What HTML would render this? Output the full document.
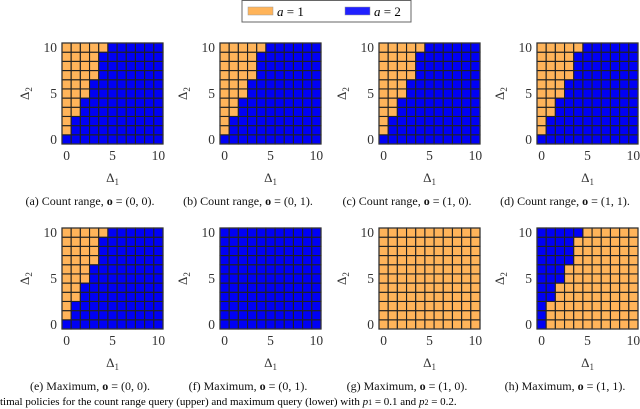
<!DOCTYPE html>
<html><head><meta charset="utf-8">
<style>
html,body{margin:0;padding:0;background:#fff;}
svg{display:block;font-family:"Liberation Serif",serif;}
</style></head>
<body>
<svg id="fig" width="640" height="409" viewBox="0 0 640 409">
  <g>
    <rect x="242" y="0.5" width="169" height="21.5" fill="#fff" stroke="#666" stroke-width="1"/>
    <rect x="248" y="7" width="25" height="8" fill="#FFB45A" stroke="#999" stroke-width="0.5"/>
    <text x="277" y="16" font-size="13"><tspan font-style="italic">a</tspan> = 1</text>
    <rect x="345" y="7" width="25" height="8" fill="#2020FF" stroke="#999" stroke-width="0.5"/>
    <text x="374" y="16" font-size="13"><tspan font-style="italic">a</tspan> = 2</text>
  </g>
  <g id="panels"></g>
  <text x="0" y="405" font-size="11">timal policies for the count range query (upper) and maximum query (lower) with <tspan font-style="italic">p</tspan><tspan font-size="8">1</tspan> = 0.1 and <tspan font-style="italic">p</tspan><tspan font-size="8">2</tspan> = 0.2.</text>
</svg>
<script>
// number of a=1 (orange) cells from left in each row, rows Δ2 = 0..10
const orangeCountA = [0,1,1,2,2,3,3,4,4,4,5];
const orangeCountE = [0,1,1,2,2,3,3,4,4,4,5];
const blueCountH = [1,1,1,2,2,3,3,4,4,4,5];
const panelKinds = ['thresh','thresh','thresh','thresh','thresh','all2','all1','inv'];
const panelCaptions = ['(a) Count range, ','(b) Count range, ','(c) Count range, ','(d) Count range, ',
  '(e) Maximum, ','(f) Maximum, ','(g) Maximum, ','(h) Maximum, '];
const panelO = ['(0, 0).','(0, 1).','(1, 0).','(1, 1).','(0, 0).','(0, 1).','(1, 0).','(1, 1).'];
const axisTicks = [0,5,10];
const panelCounts = [orangeCountA,orangeCountA,orangeCountA,orangeCountA,orangeCountE,orangeCountE,orangeCountE,blueCountH];

const NS='http://www.w3.org/2000/svg';
const root=document.getElementById('panels');
const lefts=[62,220,379,537], tops=[43,228], W=101, N=11;
const ORANGE='#FFB45A', BLUE='#0000F5';
function mk(tag,attrs,parent){const e=document.createElementNS(NS,tag);for(const k in attrs)e.setAttribute(k,attrs[k]);parent.appendChild(e);return e;}
for(let p=0;p<8;p++){
  const x0=lefts[p%4], y0=tops[Math.floor(p/4)], cs=W/N;
  const sx=v=>x0+(v+0.5)*cs, sy=v=>y0+W-(v+0.5)*cs;
  const g=mk('g',{},root);
  
  
  const cnt=panelCounts[p], kind=panelKinds[p];
  for(let r=0;r<N;r++)for(let c=0;c<N;c++){
    let a;
    if(kind==='all1')a=1;else if(kind==='all2')a=2;
    else if(kind==='thresh')a=c<cnt[r]?1:2;
    else a=c<cnt[r]?2:1;
    const rc=mk('rect',{x:sx(c)-cs/2,y:sy(r)-cs/2,width:cs,height:cs,fill:a===1?ORANGE:BLUE,stroke:'#222','stroke-width':1.1},g);
    
    
  }
  const fr=mk('rect',{x:x0,y:y0,width:W,height:W,fill:'none',stroke:'#333','stroke-width':1.2},g);
  
  
  axisTicks.forEach(t=>{
    const tx=mk('text',{x:sx(t),y:y0+W+16,'font-size':13.5,'text-anchor':'middle',fill:'#333'},g);tx.textContent=t;
    
    
    const ty=mk('text',{x:x0-5,y:sy(t)+4.5,'font-size':13.5,'text-anchor':'end',fill:'#333'},g);ty.textContent=t;
    
    
  });
  const xl=mk('text',{x:x0+W/2,y:y0+W+38,'font-size':13,'text-anchor':'middle',fill:'#333'},g);
  xl.innerHTML='Δ<tspan font-size="9" dy="3">1</tspan>';
  
  
  const yl=mk('text',{x:0,y:0,'font-size':13,'text-anchor':'middle',fill:'#333',transform:`translate(${x0-33},${y0+W/2}) rotate(-90)`},g);
  yl.innerHTML='Δ<tspan font-size="9" dy="3">2</tspan>';
  
  
  const cap=mk('text',{x:x0+28,y:y0+W+61,'font-size':12,'text-anchor':'middle',fill:'#111'},g);
  cap.innerHTML=panelCaptions[p]+'<tspan font-weight="bold">o</tspan> = '+panelO[p];
  
  
}
</script>
</body></html>
